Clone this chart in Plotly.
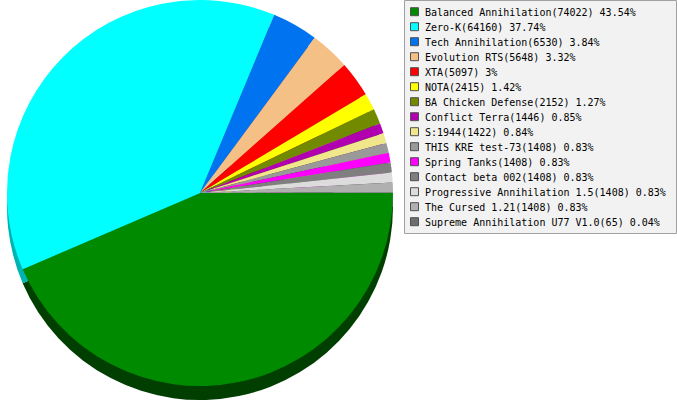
import plotly.graph_objects as go

names = ["Balanced Annihilation", "Zero-K", "Tech Annihilation", "Evolution RTS", "XTA",
         "NOTA", "BA Chicken Defense", "Conflict Terra", "S:1944", "THIS KRE test-73",
         "Spring Tanks", "Contact beta 002", "Progressive Annihilation 1.5", "The Cursed 1.21",
         "Supreme Annihilation U77 V1.0"]
values = [74022, 64160, 6530, 5648, 5097, 2415, 2152, 1446, 1422, 1408, 1408, 1408, 1408, 1408, 65]
percents = ["43.54%", "37.74%", "3.84%", "3.32%", "3%", "1.42%", "1.27%", "0.85%", "0.84%",
            "0.83%", "0.83%", "0.83%", "0.83%", "0.83%", "0.04%"]
colors = ["#008A00", "#00FFFF", "#0073F0", "#F4C086", "#FF0000", "#FFFF00", "#728A00",
          "#B000B0", "#F0E68C", "#999999", "#FF00FF", "#7F7F7F", "#DCDCDC", "#B0B0B0", "#6E6E6E"]

labels = [f"{n}({v}) {p}" for n, v, p in zip(names, values, percents)]


def darken(hexc, d=75):
    r, g, b = (int(hexc[i:i + 2], 16) for i in (1, 3, 5))
    return "#%02X%02X%02X" % (max(r - d, 0), max(g - d, 0), max(b - d, 0))


shadow = [darken(c) for c in colors]

W, H = 677, 400
fig = go.Figure()
fig.add_trace(go.Pie(
    labels=labels, values=values, sort=False, direction="clockwise", rotation=90,
    marker=dict(colors=shadow, line=dict(width=0)), textinfo="none", hoverinfo="skip",
    showlegend=False, domain=dict(x=[0, 400 / W], y=[0, 386 / H])))
fig.add_trace(go.Pie(
    labels=labels, values=values, sort=False, direction="clockwise", rotation=90,
    marker=dict(colors=colors, line=dict(width=0)), textinfo="none",
    showlegend=False, domain=dict(x=[0, 400 / W], y=[14 / H, 1])))


def px(x):
    return x / W


def py(y):
    return 1 - y / H


# legend box (drawn manually to match the original compact legend)
shapes = [dict(type="rect", xref="paper", yref="paper", x0=px(404.5), x1=px(676.5),
               y0=py(233.5), y1=py(0.5), fillcolor="#F2F2F2",
               line=dict(color="#A0A0A0", width=1), layer="above")]
annotations = []
for i, (lab, col) in enumerate(zip(labels, colors)):
    cy = 11.7 + 15 * i
    shapes.append(dict(type="rect", xref="paper", yref="paper",
                       x0=px(410.5), x1=px(418.5), y0=py(cy + 4), y1=py(cy - 4),
                       fillcolor=col, line=dict(color="#505050", width=1), layer="above"))
    annotations.append(dict(text=lab, xref="paper", yref="paper", x=px(422.5), y=py(cy + 0.5),
                            xanchor="left", yanchor="middle", showarrow=False,
                            font=dict(family="DejaVu Sans Mono", size=10, color="#000000")))

fig.update_layout(
    width=W, height=H, margin=dict(l=0, r=0, t=0, b=0),
    paper_bgcolor="white", plot_bgcolor="white", showlegend=False,
    shapes=shapes, annotations=annotations,
)
fig.write_html("out.html", config={"displayModeBar": False},
               post_script="document.body.style.margin='0px';")
